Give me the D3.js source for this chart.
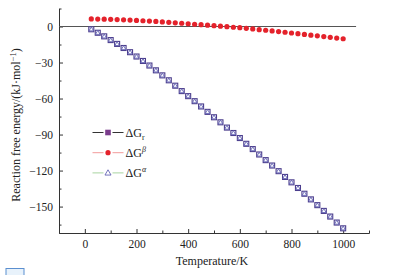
<!DOCTYPE html>
<html>
<head>
<meta charset="utf-8">
<script src="https://cdn.jsdelivr.net/npm/d3@7/dist/d3.min.js"></script>
<style>
body { margin: 0; background: #fff; }
svg { display: block; }
text { font-family: "Liberation Serif", "Times New Roman", serif; fill: #222; }
</style>
</head>
<body>
<div id="chart"></div>
<script>
//////////////////////////////////////////////////////////////////////////////
// Data

var temps = [25, 50, 75, 100, 125, 150, 175, 200, 225, 250,
             275, 300, 325, 350, 375, 400, 425, 450, 475, 500,
             525, 550, 575, 600, 625, 650, 675, 700, 725, 750,
             775, 800, 825, 850, 875, 900, 925, 950, 975, 1000];

var dGr = [-2.3, -5.2, -8.2, -11.3, -14.5, -17.9, -21.4, -25.0, -28.7, -32.5,
           -36.5, -40.7, -44.8, -49.3, -53.8, -58.0, -62.2, -66.6, -71.1, -75.6,
           -79.8, -84.2, -88.7, -92.9, -97.7, -102.1, -106.6, -111.3, -115.8, -120.5,
           -125.3, -129.8, -134.5, -139.3, -144.0, -148.8, -153.6, -158.3, -163.3, -168.1];

var dGalpha = dGr.slice();

var dGbeta = [6.3, 6.2, 6.1, 6.0, 5.8, 5.6, 5.4, 5.1, 4.8, 4.5,
              4.2, 3.8, 3.5, 3.1, 2.7, 2.3, 1.9, 1.5, 1.1, 0.7,
              0.3, -0.1, -0.6, -1.0, -1.5, -2.0, -2.6, -3.1, -3.7, -4.2,
              -4.8, -5.4, -6.0, -6.6, -7.2, -7.8, -8.4, -9.0, -9.6, -10.2];

var xTicks = [0, 200, 400, 600, 800, 1000];
var xMinor = [-100, 100, 300, 500, 700, 900, 1100];
var yTicks = [0, -30, -60, -90, -120, -150];
var yMinor = [15, -15, -45, -75, -105, -135, -165];

//////////////////////////////////////////////////////////////////////////////
// Layout

var width = 393, height = 275;

var xScale = d3.scaleLinear().domain([-100, 1100]).range([59, 369]);
var yScale = d3.scaleLinear().domain([15, -172]).range([8.5, 233]);

var svg = d3.select("#chart").append("svg")
    .attr("width", width)
    .attr("height", height);

//////////////////////////////////////////////////////////////////////////////
// Axes (ticks point inwards)

svg.append("g")
    .attr("transform", "translate(0," + yScale.range()[1] + ")")
    .call(d3.axisBottom(xScale).tickValues(xTicks).tickFormat(d3.format("d"))
        .tickSize(-4).tickSizeOuter(0).tickPadding(7));
svg.append("g")
    .attr("transform", "translate(0," + yScale.range()[1] + ")")
    .call(d3.axisBottom(xScale).tickValues(xMinor).tickSize(-2.5).tickSizeOuter(0).tickFormat(""));

svg.append("g")
    .attr("transform", "translate(" + xScale.range()[0] + ",0)")
    .call(d3.axisLeft(yScale).tickValues(yTicks).tickSize(-4).tickSizeOuter(0).tickPadding(6));
svg.append("g")
    .attr("transform", "translate(" + xScale.range()[0] + ",0)")
    .call(d3.axisLeft(yScale).tickValues(yMinor).tickSize(-2.5).tickSizeOuter(0).tickFormat(""));

svg.selectAll(".domain, .tick line").attr("stroke", "#333").attr("stroke-width", 1);
svg.selectAll(".tick text")
    .style("font-family", "'Liberation Serif', serif")
    .style("font-size", "11.5px")
    .attr("fill", "#222");

svg.append("text")
    .attr("x", 212)
    .attr("y", 265)
    .attr("text-anchor", "middle")
    .style("font-size", "12px")
    .text("Temperature/K");

var yLab = svg.append("text")
    .attr("transform", "translate(20,125) rotate(-90)")
    .attr("text-anchor", "middle")
    .style("font-size", "12px");
yLab.append("tspan").text("Reaction free energy/(kJ\u00b7mol");
yLab.append("tspan").attr("dy", -4.5).style("font-size", "8.5px").text("\u22121");
yLab.append("tspan").attr("dy", 4.5).text(")");

// zero line
svg.append("line")
    .attr("x1", xScale(-100)).attr("x2", xScale(1050))
    .attr("y1", yScale(0)).attr("y2", yScale(0))
    .attr("stroke", "#555").attr("stroke-width", 1);

//////////////////////////////////////////////////////////////////////////////
// Series

var betaCol = "#e4222b", grCol = "#4b3d8c", alphaCol = "#6464b4";

svg.append("g").selectAll("circle")
    .data(temps)
    .enter()
    .append("circle")
    .attr("cx", function(d) { return xScale(d); })
    .attr("cy", function(d, i) { return yScale(dGbeta[i]); })
    .attr("r", 2.6)
    .attr("fill", betaCol);

svg.append("g").selectAll("rect")
    .data(temps)
    .enter()
    .append("rect")
    .attr("x", function(d) { return xScale(d) - 2.5; })
    .attr("y", function(d, i) { return yScale(dGr[i]) - 2.5; })
    .attr("width", 5)
    .attr("height", 5)
    .attr("fill", "#fff")
    .attr("stroke", grCol)
    .attr("stroke-width", 1.1);

var tri = d3.symbol().type(d3.symbolTriangle).size(9);
svg.append("g").selectAll("path")
    .data(temps)
    .enter()
    .append("path")
    .attr("transform", function(d, i) {
        return "translate(" + xScale(d) + "," + (yScale(dGalpha[i]) + 0.3) + ")";
    })
    .attr("d", tri)
    .attr("fill", "none")
    .attr("stroke", alphaCol)
    .attr("stroke-width", 0.9);

//////////////////////////////////////////////////////////////////////////////
// Legend

var legend = [
    {name: "G", sub: "r", sup: null, line: "#333", marker: "square"},
    {name: "G", sub: null, sup: "\u03b2", line: "#f29a9a", marker: "circle"},
    {name: "G", sub: null, sup: "\u03b1", line: "#a8d4a0", marker: "triangle"}
];

var lg = svg.append("g").selectAll("g")
    .data(legend)
    .enter()
    .append("g")
    .attr("transform", function(d, i) { return "translate(92.5," + (132.5 + i * 20.2) + ")"; });

// line with a gap round the marker
lg.append("line")
    .attr("x1", 0).attr("x2", 11).attr("y1", 0).attr("y2", 0)
    .attr("stroke", function(d) { return d.line; })
    .attr("stroke-width", 1);
lg.append("line")
    .attr("x1", 20).attr("x2", 31).attr("y1", 0).attr("y2", 0)
    .attr("stroke", function(d) { return d.line; })
    .attr("stroke-width", 1);

lg.filter(function(d) { return d.marker === "square"; })
    .append("rect")
    .attr("x", 12.7).attr("y", -2.8).attr("width", 5.6).attr("height", 5.6)
    .attr("fill", "#7a3c8c");
lg.filter(function(d) { return d.marker === "circle"; })
    .append("circle")
    .attr("cx", 15.5).attr("cy", 0).attr("r", 2.6)
    .attr("fill", betaCol);
lg.filter(function(d) { return d.marker === "triangle"; })
    .append("path")
    .attr("transform", "translate(15.5,0.4)")
    .attr("d", d3.symbol().type(d3.symbolTriangle).size(16))
    .attr("fill", "#fff")
    .attr("stroke", alphaCol)
    .attr("stroke-width", 0.9);

var lt = lg.append("text")
    .attr("x", 33)
    .attr("y", 4.5)
    .style("font-size", "12px");
lt.append("tspan").text(function(d) { return "\u0394" + d.name; });
lt.append("tspan")
    .attr("dy", function(d) { return d.sub ? 3 : -5.5; })
    .style("font-size", "8px")
    .style("font-style", function(d) { return d.sub ? "normal" : "italic"; })
    .text(function(d) { return d.sub || d.sup; });

// small figure icon bottom-left
svg.append("rect")
    .attr("x", 6).attr("y", 268.5).attr("width", 18).attr("height", 7)
    .attr("fill", "#e8f2fb").attr("stroke", "#5b8fd0").attr("stroke-width", 1);
</script>
</body>
</html>
